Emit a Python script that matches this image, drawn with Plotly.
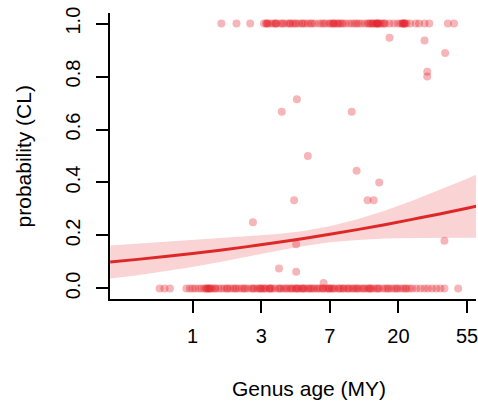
import plotly.graph_objects as go

# ---- data (x = ln(genus age, MY)) ----
tick_vals = [0, 1, 2, 3, 4]
tick_text = ["1", "3", "7", "20", "55"]

x_one = [0.42, 0.64, 0.84, 1.04, 1.09, 1.09, 1.13, 1.17, 1.22, 1.22, 1.28, 1.33, 1.38,
         1.42, 1.42, 1.46, 1.51, 1.55, 1.59, 1.64, 1.68, 1.74, 1.78, 1.84, 1.88, 1.94,
         1.99, 2.01, 2.06, 2.06, 2.10, 2.12, 2.14, 2.19, 2.23, 2.28, 2.32, 2.36, 2.42,
         2.46, 2.51, 2.55, 2.59, 2.62, 2.62, 2.65, 2.68, 2.68, 2.71, 2.71, 2.74, 2.77,
         2.81, 2.87, 2.93, 2.99, 3.03, 3.06, 3.06, 3.09, 3.09, 3.12, 3.17, 3.25, 3.30,
         3.38, 3.45, 3.72, 3.81, 1.07, 1.20, 1.31, 1.49, 1.61, 1.72, 1.91, 2.04, 2.17,
         2.39, 2.57, 2.69, 2.79, 3.08]

x_zero = [-0.48, -0.41, -0.33, -0.09, -0.04, 0.00, 0.04, 0.09, 0.13, 0.17, 0.20, 0.20,
          0.23, 0.23, 0.26, 0.26, 0.29, 0.33, 0.33, 0.38, 0.42, 0.46, 0.50, 0.51, 0.55,
          0.59, 0.64, 0.68, 0.72, 0.77, 0.81, 0.86, 0.90, 0.94, 0.99, 1.00, 1.03, 1.07,
          1.12, 1.12, 1.16, 1.20, 1.25, 1.29, 1.33, 1.38, 1.42, 1.46, 1.50, 1.51, 1.55,
          1.59, 1.60, 1.64, 1.68, 1.70, 1.72, 1.77, 1.81, 1.86, 1.90, 1.90, 1.94, 1.99,
          2.00, 2.03, 2.07, 2.12, 2.16, 2.20, 2.20, 2.25, 2.29, 2.33, 2.38, 2.40, 2.42,
          2.46, 2.51, 2.55, 2.59, 2.60, 2.64, 2.68, 2.72, 2.77, 2.81, 2.86, 2.90, 2.94,
          2.99, 3.03, 3.07, 3.12, 3.16, 3.20, 3.26, 3.32, 3.38, 3.43, 3.49, 3.55, 3.61,
          3.67, 3.87, 1.05, 1.14, 1.27, 1.36, 1.44, 1.53, 1.62, 1.75, 1.83, 1.97, 2.05,
          2.14, 2.27, 2.35, 2.49, 2.57, 2.70, 2.84, 2.97, 3.10, 0.62, 0.75, 0.88, 0.97]

x_mid = [0.88, 1.26, 1.30, 1.48, 1.51, 1.51, 1.52, 1.68, 1.91, 2.32, 2.39, 2.55, 2.64,
         2.72, 2.87, 3.38, 3.42, 3.42, 3.67, 3.68]
y_mid = [0.25, 0.075, 0.667, 0.333, 0.167, 0.0625, 0.714, 0.50, 0.02, 0.667, 0.444,
         0.333, 0.333, 0.40, 0.947, 0.936, 0.80, 0.818, 0.18, 0.889]

# fitted probability and confidence band
x_fit = [-1.2, -0.8, -0.4, 0.0, 0.4, 0.8, 1.2, 1.6, 2.0, 2.4, 2.8, 3.2, 3.6, 4.0, 4.2]
y_fit = [0.0997, 0.1096, 0.1203, 0.1318, 0.1443, 0.1578, 0.1724, 0.1879, 0.2044,
         0.2220, 0.2407, 0.2606, 0.2813, 0.3030, 0.3143]
y_lo = [0.037, 0.050, 0.0645, 0.081, 0.0994, 0.1195, 0.1403, 0.1596, 0.1742, 0.1831,
        0.188, 0.1906, 0.1916, 0.1916, 0.1914]
y_hi = [0.162, 0.169, 0.176, 0.183, 0.189, 0.196, 0.2045, 0.2162, 0.2346, 0.2609,
        0.2934, 0.3306, 0.371, 0.4144, 0.4372]

FONT = "Liberation Sans, Arial, sans-serif"
PT = "rgba(228,30,40,0.33)"

fig = go.Figure()
fig.add_trace(go.Scatter(x=x_fit + x_fit[::-1], y=y_hi + y_lo[::-1], fill="toself",
                         fillcolor="rgba(240,110,115,0.30)", line=dict(width=0),
                         mode="lines", hoverinfo="skip", showlegend=False))
pts_x = x_zero + x_one + x_mid
pts_y = [0] * len(x_zero) + [1] * len(x_one) + y_mid
fig.add_trace(go.Scatter(x=pts_x, y=pts_y, mode="markers",
                         marker=dict(size=8, color=PT, line=dict(width=0)),
                         showlegend=False))
fig.add_trace(go.Scatter(x=x_fit, y=y_fit, mode="lines", line_shape="spline",
                         line=dict(color="rgb(222,40,40)", width=3), showlegend=False))

fig.update_layout(
    width=478, height=403, autosize=False,
    margin=dict(l=110, r=0, t=13, b=104),
    paper_bgcolor="white", plot_bgcolor="white",
    font=dict(family=FONT, size=20, color="black"),
    xaxis=dict(range=[-1.203, 4.13], tickvals=tick_vals, ticktext=tick_text,
               showgrid=False, zeroline=False, showline=True, linecolor="black",
               linewidth=1.6, ticks="outside", ticklen=12, tickwidth=1.6,
               tickcolor="black", ticklabelstandoff=6, ticklabeloverflow="allow"),
    yaxis=dict(range=[-0.04, 1.04], tickvals=[0, 0.2, 0.4, 0.6, 0.8, 1.0],
               ticktext=["0.0", "0.2", "0.4", "0.6", "0.8", "1.0"], tickangle=-90,
               showgrid=False, zeroline=False, showline=True, linecolor="black",
               linewidth=1.6, ticks="outside", ticklen=12, tickwidth=1.6,
               tickcolor="black", ticklabelstandoff=8),
    annotations=[
        dict(text="Genus age (MY)", x=(310 - 110) / 368, y=(299 - 388) / 286,
             xref="paper", yref="paper", showarrow=False, xanchor="center",
             yanchor="middle", font=dict(size=21)),
        dict(text="probability (CL)", x=(23 - 110) / 368, y=0.5, textangle=-90,
             xref="paper", yref="paper", showarrow=False, xanchor="center",
             yanchor="middle", font=dict(size=21)),
    ],
)
fig.write_html("out.html")
